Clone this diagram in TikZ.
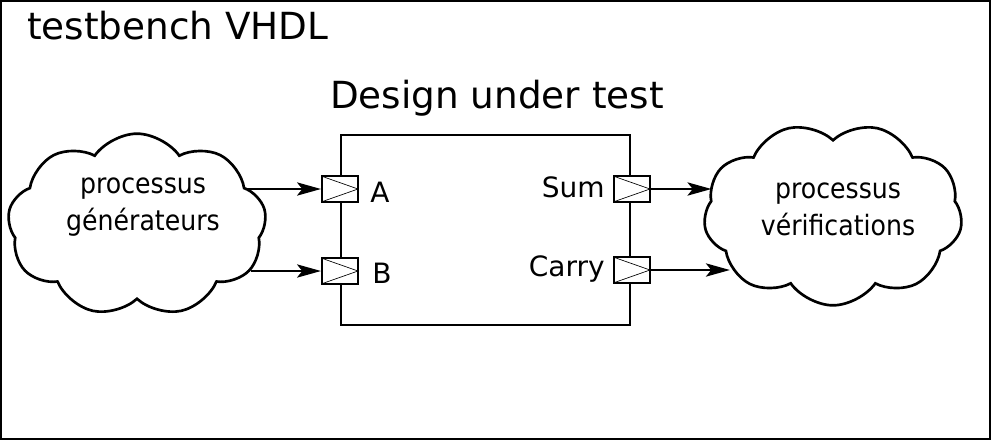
\documentclass[tikz,border=0pt]{standalone}
\usepackage{fontspec}
\setmainfont{DejaVu Sans}
\newfontfamily\cloudfont[FakeStretch=0.9]{DejaVu Sans}
\usetikzlibrary{arrows.meta, shapes.symbols}

\tikzset{
  frame/.style={line width=1.5pt},
  port/.style={draw, line width=1.6pt, fill=white, inner sep=0pt,
    minimum width=27pt, minimum height=19pt,
    path picture={\draw[line width=0.5pt]
      (path picture bounding box.north west) -- (path picture bounding box.east)
      -- (path picture bounding box.south west);}},
  proc/.style={cloud, cloud puffs=9, cloud puff arc=110, cloud ignores aspect,
    draw, line width=2pt, inner sep=0pt, minimum width=194pt, minimum height=137pt},
  sig/.style={line width=1.1pt, -{Stealth[length=18pt, width=10pt, inset=4pt]}},
  lbl/.style={font=\fontsize{21}{25}\selectfont, inner sep=0pt},
  big/.style={font=\fontsize{28}{34}\selectfont, inner sep=0pt},
  ctext/.style={font=\cloudfont\fontsize{21}{27.75}\selectfont, align=center, inner sep=0pt},
}

\begin{document}
\begin{tikzpicture}[x=0.75pt, y=-0.75pt]
  \useasboundingbox (0,0) rectangle (991,440);
  \draw[frame] (1,1) rectangle (990,439);
  \node[big, anchor=base west] (tb) at (27,39) {testbench VHDL};
  \node[big, anchor=base] (dutTitle) at (497,108) {Design under test};
  \node[draw, line width=1.5pt, minimum width=216.75pt, minimum height=142.5pt] (dut) at (485.5,230) {};

  \node[port] (pA) at (340,189) {};
  \node[port] (pB) at (340,271) {};
  \node[port] (pS) at (632,189) {};
  \node[port] (pC) at (632,270) {};
  \node[lbl, anchor=base west] (lA) at (370,202) {A};
  \node[lbl, anchor=base west] (lB) at (372,283) {B};
  \node[lbl, anchor=base east] (lS) at (605,197) {Sum};
  \node[lbl, anchor=base east] (lC) at (605,276) {Carry};

  \node[proc] (gen) at (137,225) {};
  \node[ctext] (genText) at (143,207) {processus\\générateurs};
  \node[proc, rotate=180] (ver) at (833,214) {};
  \node[ctext] (verText) at (838,209) {processus\\vérifications};

  \draw[sig] (gen.20 |- pA) -- (pA.west);
  \draw[sig] (gen.-22 |- pB) -- (pB.west);
  \draw[sig] (pS.east) -- (ver.-15 |- pS);
  \draw[sig] (pC.east) -- (ver.27 |- pC);
\end{tikzpicture}
\end{document}
